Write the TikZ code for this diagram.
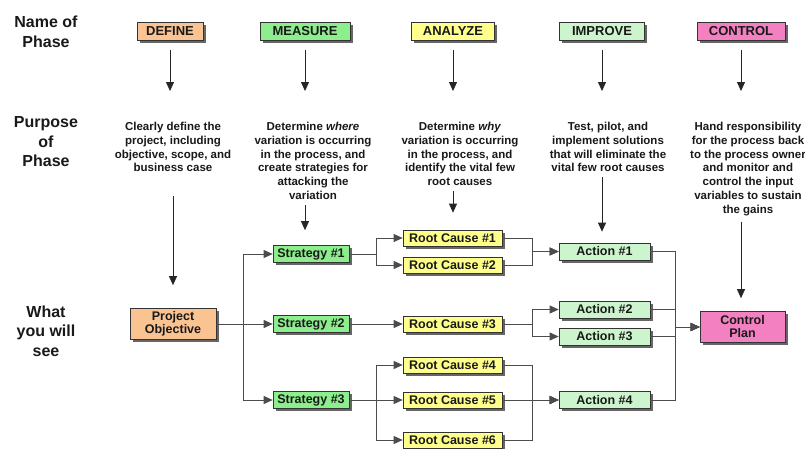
\documentclass[tikz,border=0pt]{standalone}
\usepackage{fontspec}
\setmainfont{Liberation Sans}
\usetikzlibrary{arrows.meta,shadows}
\definecolor{defcol}{RGB}{250,195,146}
\definecolor{meacol}{RGB}{140,238,140}
\definecolor{anacol}{RGB}{255,255,140}
\definecolor{impcol}{RGB}{205,245,205}
\definecolor{concol}{RGB}{243,128,192}
\definecolor{ink}{RGB}{25,25,25}
\begin{document}
\begin{tikzpicture}[x=1pt,y=-1pt,
  box/.style={draw=black!80, line width=0.7pt, inner sep=0pt, align=center,
    text=ink, drop shadow={shadow xshift=2.5pt, shadow yshift=-2.5pt, fill=black!60, opacity=1}},
  phase/.style={box, minimum height=18pt, font=\fontsize{13}{15}\selectfont\bfseries},
  item/.style={box, font=\fontsize{12.5}{15}\selectfont\bfseries},
  strat/.style={item, fill=meacol, minimum width=76pt, minimum height=17pt},
  cause/.style={item, fill=anacol, minimum width=99pt, minimum height=16pt},
  act/.style={item, fill=impcol, minimum width=91pt, minimum height=17pt},
  purpose/.style={anchor=north, inner sep=0pt, align=center, text=ink,
    font=\fontsize{11.5}{13.8}\selectfont\bfseries},
  rowlabel/.style={inner sep=0pt, align=center, text=ink,
    font=\fontsize{16}{19.5}\selectfont\bfseries},
  arr/.style={draw=black!85, line width=0.8pt, -{Triangle[length=9pt,width=8pt]}},
  link/.style={draw=black!70, line width=0.8pt},
  linkarr/.style={link, -{Triangle[length=9pt,width=8pt]}}
]
\useasboundingbox[fill=white] (0,0) rectangle (805,448);

% row labels
\node[rowlabel] (lname) at (46,32) {Name of\\Phase};
\node[rowlabel] (lpurp) at (46,142) {Purpose\\of\\Phase};
\node[rowlabel] (lsee)  at (46,331) {What\\you will\\see};

% phase boxes
\node[phase, fill=defcol, minimum width=66pt] (define)  at (170,31) {DEFINE};
\node[phase, fill=meacol, minimum width=90pt] (measure) at (305,31) {MEASURE};
\node[phase, fill=anacol, minimum width=83pt] (analyze) at (453,31) {ANALYZE};
\node[phase, fill=impcol, minimum width=85pt] (improve) at (602,31) {IMPROVE};
\node[phase, fill=concol, minimum width=88pt] (control) at (741,31) {CONTROL};

% purpose of each phase
\node[purpose] (pdef) at (173,122) {Clearly define the\\project, including\\objective, scope, and\\business case};
\node[purpose] (pmea) at (313,122) {Determine \textit{where}\\variation is occurring\\in the process, and\\create strategies for\\attacking the\\variation};
\node[purpose] (pana) at (460,122) {Determine \textit{why}\\variation is occurring\\in the process, and\\identify the vital few\\root causes};
\node[purpose] (pimp) at (608,122) {Test, pilot, and\\implement solutions\\that will eliminate the\\vital few root causes};
\node[purpose] (pcon) at (748,122) {Hand responsibility\\for the process back\\to the process owner\\and monitor and\\control the input\\variables to sustain\\the gains};

% deliverables
\node[item, fill=defcol, minimum width=86pt, minimum height=31pt] (po) at (173,324) {Project\\[-2pt]Objective};

\node[strat] (s1) at (311,254) {Strategy \#1};
\node[strat] (s2) at (311,324) {Strategy \#2};
\node[strat] (s3) at (311,400) {Strategy \#3};

\node[cause] (rc1) at (452.5,238) {Root Cause \#1};
\node[cause] (rc2) at (452.5,265) {Root Cause \#2};
\node[cause] (rc3) at (452.5,324) {Root Cause \#3};
\node[cause] (rc4) at (452.5,365) {Root Cause \#4};
\node[cause] (rc5) at (452.5,400) {Root Cause \#5};
\node[cause] (rc6) at (452.5,440) {Root Cause \#6};

\node[act] (a1) at (604.5,251.5) {Action \#1};
\node[act] (a2) at (604.5,309.5) {Action \#2};
\node[act] (a3) at (604.5,336.5) {Action \#3};
\node[act] (a4) at (604.5,400) {Action \#4};

\node[item, fill=concol, minimum width=85pt, minimum height=31pt] (cp) at (742.5,327) {Control\\[-2pt]Plan};

% phase -> purpose arrows
\foreach \p/\t in {define/pdef, measure/pmea, analyze/pana, improve/pimp, control/pcon}
  \draw[arr, shorten <=10pt, shorten >=31pt] (\p) -- (\p.south |- \t.north);

% purpose -> deliverable arrows
\draw[arr, shorten <=24pt, shorten >=23pt] (pdef.south -| po.north) -- (po.north);
\draw[arr, shorten <=5pt, shorten >=15pt] (pmea.south -| measure.south) -- (measure.south |- s1.north);
\draw[arr, shorten <=5pt, shorten >=17pt] (pana.south -| analyze.south) -- (analyze.south |- rc1.north);
\draw[arr, shorten <=5pt, shorten >=11pt] (pimp.south -| improve.south) -- (improve.south |- a1.north);
\draw[arr, shorten <=6pt, shorten >=13pt] (pcon.south -| control.south) -- (control.south |- cp.north);

% objective -> strategies
\draw[linkarr] (po.east) -- (s2.west);
\draw[linkarr] (po.east) -- ++(27,0) |- (s1.west);
\draw[linkarr] (po.east) -- ++(27,0) |- (s3.west);

% strategies -> root causes
\draw[linkarr] (s1.east) -- ++(27,0) |- (rc1.west);
\draw[linkarr] (s1.east) -- ++(27,0) |- (rc2.west);
\draw[linkarr] (s2.east) -- (rc3.west);
\draw[linkarr] (s3.east) -- ++(27,0) |- (rc4.west);
\draw[linkarr] (s3.east) -- (rc5.west);
\draw[linkarr] (s3.east) -- ++(27,0) |- (rc6.west);

% root causes -> actions
\draw[linkarr] (rc1.east) -- ++(30,0) |- (a1.west);
\draw[linkarr] (rc2.east) -- ++(30,0) |- (a1.west);
\draw[linkarr] (rc3.east) -- ++(30,0) |- (a2.west);
\draw[linkarr] (rc3.east) -- ++(30,0) |- (a3.west);
\draw[linkarr] (rc4.east) -- ++(30,0) |- (a4.west);
\draw[linkarr] (rc5.east) -- (a4.west);
\draw[linkarr] (rc6.east) -- ++(30,0) |- (a4.west);

% actions -> control plan
\foreach \a in {a1,a2,a3,a4}
  \draw[linkarr] (\a.east) -- ++(25,0) |- (cp.west);
\end{tikzpicture}
\end{document}
